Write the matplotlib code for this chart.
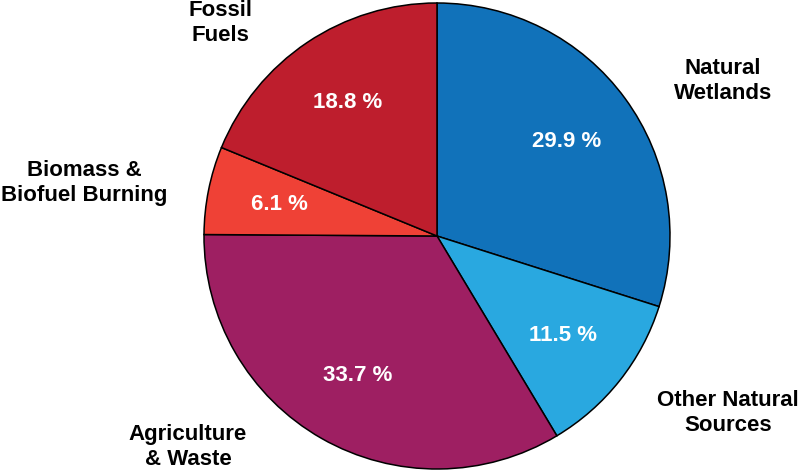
import matplotlib
matplotlib.use("Agg")
import matplotlib.pyplot as plt

categories = ["Natural\nWetlands", "Other Natural\nSources", "Agriculture\n& Waste",
              "Biomass &\nBiofuel Burning", "Fossil\nFuels"]
values = [29.9, 11.5, 33.7, 6.1, 18.8]
colors = ["#1172BA", "#29A8E0", "#9E1F62", "#EF4136", "#BE1E2D"]
# label anchor positions (in pie-radius units)
label_pos = [(1.227, 0.665), (1.249, -0.760), (-1.069, -0.906), (-1.515, 0.227), (-0.931, 0.914)]

plt.rcParams['font.family'] = ['Liberation Sans', 'DejaVu Sans']

fig = plt.figure(figsize=(8, 4.73), dpi=100)
ax = fig.add_axes([0, 0, 1, 1])
wedges, texts, autotexts = ax.pie(
    values, colors=colors, startangle=90, counterclock=False,
    autopct=lambda p: f"{p:.1f} %", pctdistance=0.69,
    wedgeprops=dict(edgecolor="black", linewidth=1.1),
    textprops=dict(color="white", fontsize=16, fontweight="bold"))

for lab, (x, y) in zip(categories, label_pos):
    ax.text(x, y, lab, ha="center", va="center", fontsize=16, fontweight="bold",
            color="black", linespacing=1.28)

R = 233.0
ax.set_xlim(-437 / R, (800 - 437) / R)
ax.set_ylim(-(473 - 236) / R, 236 / R)
ax.set_aspect("equal")
ax.axis("off")
fig.savefig("out.png", dpi=100)
